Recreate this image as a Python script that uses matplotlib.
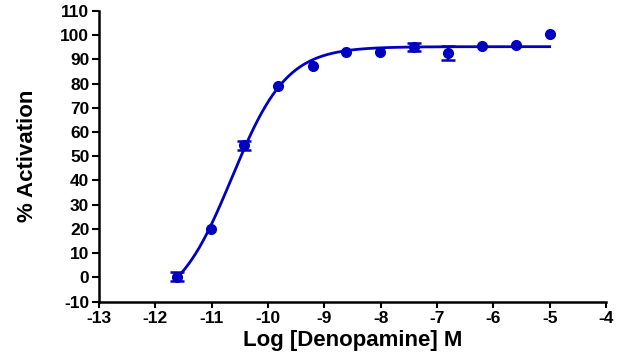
import numpy as np
import matplotlib
matplotlib.use('Agg')
import matplotlib.pyplot as plt

# log molar concentrations (4-fold dilutions from 10 uM)
log_conc = [-11.62, -11.02, -10.42, -9.82, -9.21, -8.61, -8.01, -7.41, -6.81, -6.20, -5.60, -5.00]
activation = [0.3, 19.8, 54.5, 79.2, 87.4, 93.2, 93.0, 95.3, 92.6, 95.6, 95.8, 100.4]
# SEM; bars smaller than the symbol are hidden
sem = [2.0, 0.0, 1.7, 0.0, 0.0, 0.0, 0.0, 1.7, 3.0, 0.0, 0.0, 0.0]

xticks = list(range(-13, -3))
yticks = list(range(-10, 111, 10))

x = np.array(log_conc)
y = np.array(activation)
e = np.array(sem)

# 4-parameter logistic fit: grid over logEC50/hill, linear solve for bottom/top
best = None
for ec50 in np.arange(-11.5, -9.5, 0.005):
    for hill in np.arange(0.5, 2.0, 0.01):
        f = 1.0 / (1.0 + 10 ** ((ec50 - x) * hill))
        A = np.column_stack([np.ones_like(f), f])
        coef, res, _, _ = np.linalg.lstsq(A, y, rcond=None)
        err = np.sum((A @ coef - y) ** 2)
        if best is None or err < best[0]:
            best = (err, ec50, hill, coef)
_, ec50, hill, (bottom, span) = best
xf = np.linspace(x.min(), x.max(), 300)
yf = bottom + span / (1.0 + 10 ** ((ec50 - xf) * hill))

color = '#0000c0'
plt.rcParams['font.family'] = ['Liberation Sans', 'DejaVu Sans']
plt.rcParams['font.weight'] = 'bold'
plt.rcParams['axes.unicode_minus'] = False

fig = plt.figure(figsize=(6.27, 3.56), dpi=100)
ax = fig.add_axes([0.158, 0.153, 0.8085, 0.816])
ax.plot(xf, yf, color=color, lw=2.0, zorder=2)
m = e > 0
ax.errorbar(x[m], y[m], yerr=e[m], fmt='none', ecolor=color, elinewidth=1.5,
            capsize=5, capthick=1.8, zorder=3)
ax.plot(x, y, 'o', color=color, ms=7, zorder=4)

ax.set_xlim(-13, -4)
ax.set_ylim(-10, 110)
ax.set_xticks(xticks)
ax.set_yticks(yticks)
ax.tick_params(labelsize=12.5, width=1.5, direction='out')
ax.tick_params(axis='y', length=5, pad=2)
ax.tick_params(axis='x', length=4, pad=3)
for lab in ax.get_xticklabels() + ax.get_yticklabels():
    lab.set_fontweight('bold')
for s in ['top', 'right']:
    ax.spines[s].set_visible(False)
for s in ['left', 'bottom']:
    ax.spines[s].set_linewidth(1.8)
ax.set_xlabel('Log [Denopamine] M', fontsize=16, fontweight='bold', labelpad=3)
ax.set_ylabel('% Activation', fontsize=16, fontweight='bold', labelpad=16)

fig.savefig('out.png', dpi=100)
